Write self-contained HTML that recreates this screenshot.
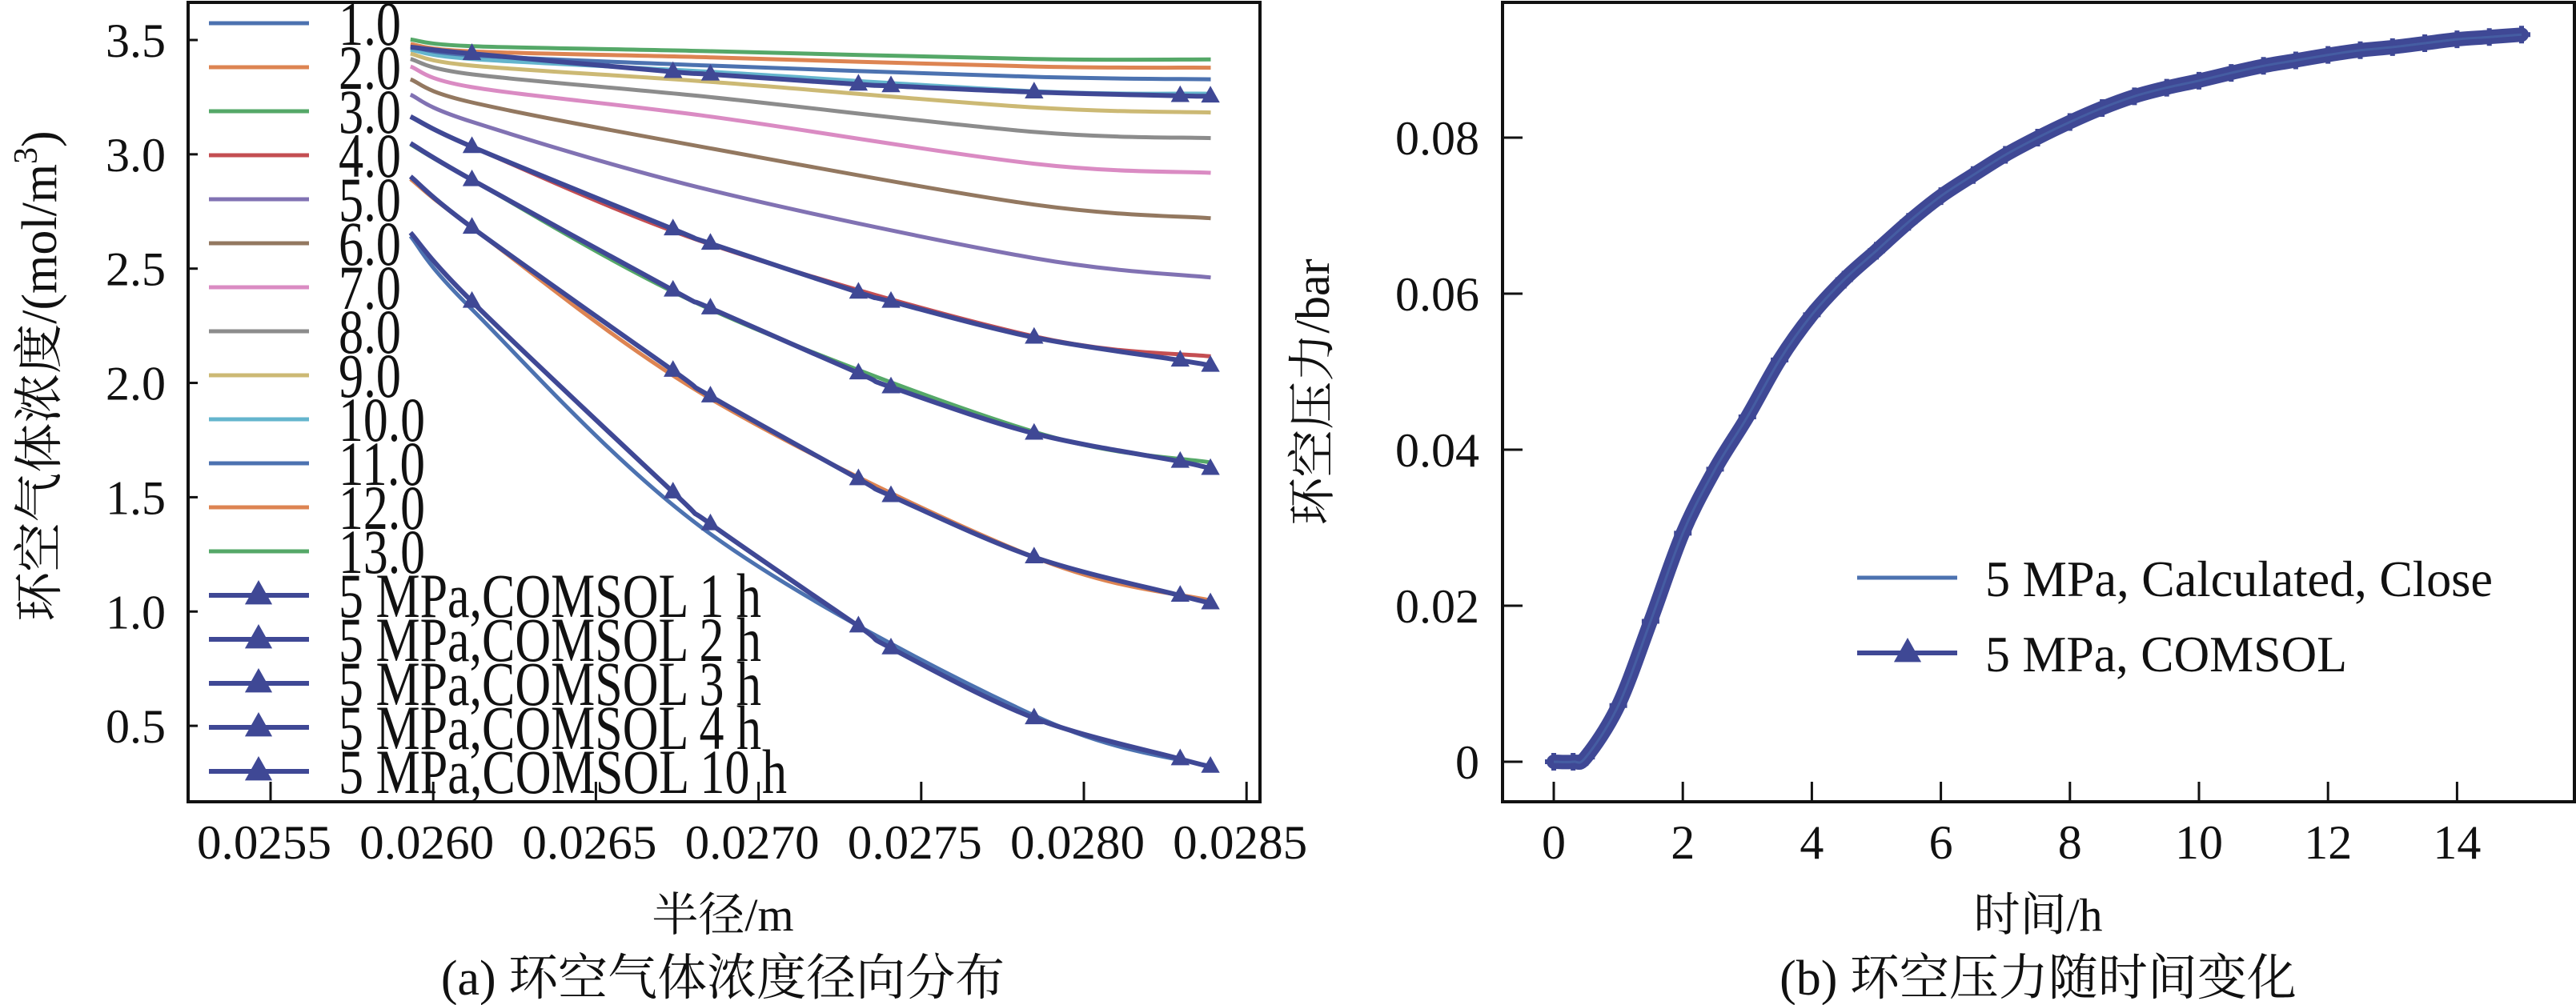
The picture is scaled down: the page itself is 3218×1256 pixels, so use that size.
<!DOCTYPE html>
<html><head><meta charset="utf-8"><style>
html,body{margin:0;padding:0;background:#fff;}
svg{display:block;font-family:"Liberation Serif","Times New Roman","DejaVu Serif","Noto Serif CJK SC",serif;}
text{font-family:"Liberation Serif","Times New Roman","DejaVu Serif","Noto Serif CJK SC",serif;fill:#111;}
</style></head><body>
<svg id="chart" width="3218" height="1256" viewBox="0 0 3218 1256" xmlns="http://www.w3.org/2000/svg" font-family="Liberation Serif, Noto Serif CJK SC, serif">
<g id="pa"></g>
<g id="pb"></g>
</svg>
<script>
// ---------- Panel (a) data ----------
const radiusCalc = [0.02593, 0.026119, 0.026852, 0.027847, 0.02839];
const calcLabels = ["1.0","2.0","3.0","4.0","5.0","6.0","7.0","8.0","9.0","10.0","11.0","12.0","13.0"];
const calc1 = [2.642, 2.322, 1.339, 0.545, 0.322];
const calc2 = [2.892, 2.680, 1.931, 1.238, 1.048];
const calc3 = [3.044, 2.888, 2.322, 1.786, 1.652];
const calc4 = [3.165, 3.033, 2.606, 2.204, 2.116];
const calc5 = [3.261, 3.142, 2.843, 2.546, 2.461];
const calc6 = [3.328, 3.227, 3.026, 2.780, 2.720];
const calc7 = [3.384, 3.294, 3.165, 2.959, 2.919];
const calc8 = [3.417, 3.350, 3.250, 3.098, 3.071];
const calc9 = [3.440, 3.388, 3.317, 3.205, 3.183];
const calc10 = [3.458, 3.417, 3.361, 3.276, 3.265];
const calc11 = [3.473, 3.433, 3.388, 3.339, 3.328];
const calc12 = [3.482, 3.450, 3.424, 3.384, 3.379];
const calc13 = [3.502, 3.473, 3.451, 3.417, 3.415];
const radiusComsol = [0.02593, 0.026119, 0.026737, 0.026852, 0.027307, 0.027407, 0.027847, 0.028296, 0.028389];
const comsolLabels = ["5 MPa,COMSOL 1 h","5 MPa,COMSOL 2 h","5 MPa,COMSOL 3 h","5 MPa,COMSOL 4 h","5 MPa,COMSOL 10 h"];
const comsol1h = [2.657, 2.356, 1.522, 1.383, 0.936, 0.840, 0.534, 0.355, 0.322];
const comsol2h = [2.903, 2.680, 2.054, 1.942, 1.580, 1.506, 1.238, 1.070, 1.037];
const comsol3h = [3.048, 2.888, 2.405, 2.327, 2.043, 1.982, 1.779, 1.656, 1.625];
const comsol4h = [3.165, 3.033, 2.673, 2.610, 2.396, 2.356, 2.199, 2.099, 2.076];
const comsol10h = [3.469, 3.440, 3.361, 3.350, 3.306, 3.299, 3.272, 3.256, 3.254];
const xTicksA = [0.0255, 0.0260, 0.0265, 0.0270, 0.0275, 0.0280, 0.0285];
const xTickLabelsA = ["0.0255","0.0260","0.0265","0.0270","0.0275","0.0280","0.0285"];
const yTicksA = [0.5, 1.0, 1.5, 2.0, 2.5, 3.0, 3.5];
const yTickLabelsA = ["0.5","1.0","1.5","2.0","2.5","3.0","3.5"];

// ---------- Panel (b) data ----------
const timeH = [0, 0.3, 0.5, 1, 1.5, 2, 2.5, 3, 3.5, 4, 4.5, 5, 5.5, 6, 6.5, 7, 7.5, 8, 8.5, 9, 9.5, 10, 10.5, 11, 11.5, 12, 12.5, 13, 13.5, 14, 14.5, 15];
const pressureBar = [0, 0, 0.0006, 0.0072, 0.0180, 0.0293, 0.0375, 0.0442, 0.0515, 0.0573, 0.0618, 0.0655, 0.0692, 0.0725, 0.0752, 0.0778, 0.0800, 0.0820, 0.0838, 0.0853, 0.0864, 0.0873, 0.0883, 0.0892, 0.0899, 0.0906, 0.0912, 0.0916, 0.0921, 0.0926, 0.0929, 0.0932];
const xTicksB = [0, 2, 4, 6, 8, 10, 12, 14];
const xTickLabelsB = ["0","2","4","6","8","10","12","14"];
const yTicksB = [0, 0.02, 0.04, 0.06, 0.08];
const yTickLabelsB = ["0","0.02","0.04","0.06","0.08"];

const NS = "http://www.w3.org/2000/svg";
function mk(parent, tag, attrs, txt){
  const e = document.createElementNS(NS, tag);
  for (const k in attrs) e.setAttribute(k, attrs[k]);
  if (txt !== undefined) e.textContent = txt;
  parent.appendChild(e);
  return e;
}
function smoothPath(xs, ys){
  let d = "M" + xs[0].toFixed(1) + "," + ys[0].toFixed(1);
  for (let i = 0; i < xs.length - 1; i++){
    const x0 = xs[Math.max(i-1,0)], y0 = ys[Math.max(i-1,0)];
    const x1 = xs[i], y1 = ys[i], x2 = xs[i+1], y2 = ys[i+1];
    const x3 = xs[Math.min(i+2,xs.length-1)], y3 = ys[Math.min(i+2,ys.length-1)];
    const c1x = x1 + (x2-x0)/6, c1y = y1 + (y2-y0)/6;
    const c2x = x2 - (x3-x1)/6, c2y = y2 - (y3-y1)/6;
    d += " C" + c1x.toFixed(1)+","+c1y.toFixed(1)+" "+c2x.toFixed(1)+","+c2y.toFixed(1)+" "+x2.toFixed(1)+","+y2.toFixed(1);
  }
  return d;
}
function tri(parent, cx, cy, s, color){
  return mk(parent, "path", {d:"M"+cx+","+(cy-s)+" L"+(cx+s*0.9)+","+(cy+s*0.6)+" L"+(cx-s*0.9)+","+(cy+s*0.6)+" Z", fill:color});
}
const COMSOL = "#3f4895";

// ---------- Panel (a) ----------
(function(){
  const g = document.getElementById("pa");
  const L = 235, R = 1574, T = 3, B = 1002;
  const xA = r => 338 + (r - 0.0255) / 0.0005 * 203.2;
  const yA = v => 50 + (3.5 - v) * 285.7;
  const colors = ["#4c72b0","#dd8452","#55a868","#c44e52","#8172b3","#937860","#da8bc3","#8c8c8c","#ccb974","#64b5cd","#4c72b0","#dd8452","#55a868"];
  const calcs = [calc1,calc2,calc3,calc4,calc5,calc6,calc7,calc8,calc9,calc10,calc11,calc12,calc13];
  const xs = radiusCalc.map(xA);
  calcs.forEach((s, i) => {
    const p = mk(g, "path", {d: smoothPath(xs, s.map(yA)), fill:"none", stroke:colors[i], "stroke-width":5});
    
    
  });
  const comsols = [comsol1h, comsol2h, comsol3h, comsol4h, comsol10h];
  const xc = radiusComsol.map(xA);
  comsols.forEach((s, i) => {
    const sg = mk(g, "g", {});
    
    
    mk(sg, "path", {d: smoothPath(xc, s.map(yA)), fill:"none", stroke:COMSOL, "stroke-width":6});
    for (let k = 1; k < s.length; k++){
      const m = tri(sg, xc[k], yA(s[k]), 13, COMSOL);
      
      
    }
  });
  const fr = mk(g, "rect", {x:L, y:T, width:R-L, height:B-T, fill:"none", stroke:"#111", "stroke-width":4});
  
  
  xTicksA.forEach((t, i) => {
    const x = xA(t);
    mk(g, "line", {x1:x, y1:B, x2:x, y2:B-25, stroke:"#111", "stroke-width":3});
    const tl = mk(g, "text", {x:x-8, y:1073, "font-size":60, "text-anchor":"middle", textLength:168, lengthAdjust:"spacingAndGlyphs"}, xTickLabelsA[i]);
    
    
  });
  yTicksA.forEach((t, i) => {
    const y = yA(t);
    mk(g, "line", {x1:L, y1:y, x2:L+12, y2:y, stroke:"#111", "stroke-width":3});
    const tl = mk(g, "text", {x:207, y:y+21, "font-size":60, "text-anchor":"end"}, yTickLabelsA[i]);
    
    
  });
  const lg = mk(g, "g", {});
  
  
  const allLabels = calcLabels.concat(comsolLabels);
  allLabels.forEach((lab, i) => {
    const y = 29 + 55 * i;
    const eg = mk(lg, "g", {});
    
    
    const col = i < 13 ? colors[i] : COMSOL;
    mk(eg, "line", {x1:261, y1:y, x2:386, y2:y, stroke:col, "stroke-width":i<13?5:6});
    if (i >= 13) tri(eg, 323, y, 19, COMSOL);
    const w = i < 13 ? (lab.length > 3 ? 108 : 78) : (lab.length > 16 ? 560 : 528);
    mk(eg, "text", {x:423, y:y+27, "font-size":78, textLength:w, lengthAdjust:"spacingAndGlyphs"}, lab);
  });
  const yt = mk(g, "text", {x:0, y:0, "font-size":62, "text-anchor":"middle", transform:"translate(70,470) rotate(-90)"});
  
  
  yt.innerHTML = '环空气体浓度/(mol/m<tspan dy="-24" font-size="42">3</tspan><tspan dy="24">)</tspan>';
  const xt = mk(g, "text", {x:903, y:1163, "font-size":58, "text-anchor":"middle"}, "半径/m");
  
  
  const cap = mk(g, "text", {x:903, y:1243, "font-size":62, "text-anchor":"middle"}, "(a) 环空气体浓度径向分布");
  
  
})();

// ---------- Panel (b) ----------
(function(){
  const g = document.getElementById("pb");
  const L = 1877, R = 3216, T = 3, B = 1002;
  const xB = t => 1941 + t * 80.6;
  const yB = v => 952 - v / 0.02 * 195;
  const xs = timeH.map(xB), ys = pressureBar.map(yB);
  const sg = mk(g, "g", {});
  
  
  mk(sg, "path", {d: smoothPath(xs, ys), fill:"none", stroke:COMSOL, "stroke-width":18, "stroke-linecap":"round"});
  for (let k = 0; k < xs.length; k++){
    const m = mk(sg, "path", {d:"M"+(xs[k]-11)+","+ys[k]+" h22 M"+xs[k]+","+(ys[k]-11)+" v22", stroke:COMSOL, "stroke-width":6});
    
    
  }
  const cl = mk(g, "path", {d: smoothPath(xs, ys), fill:"none", stroke:"#4c72b0", "stroke-width":3, opacity:0.5});
  
  
  const fr = mk(g, "rect", {x:L, y:T, width:R-L, height:B-T, fill:"none", stroke:"#111", "stroke-width":4});
  
  
  xTicksB.forEach((t, i) => {
    const x = xB(t);
    mk(g, "line", {x1:x, y1:B, x2:x, y2:B-25, stroke:"#111", "stroke-width":3});
    const tl = mk(g, "text", {x:x, y:1073, "font-size":60, "text-anchor":"middle"}, xTickLabelsB[i]);
    
    
  });
  yTicksB.forEach((t, i) => {
    const y = yB(t);
    mk(g, "line", {x1:L, y1:y, x2:L+25, y2:y, stroke:"#111", "stroke-width":3});
    const tl = mk(g, "text", {x:1848, y:y+21, "font-size":60, "text-anchor":"end"}, yTickLabelsB[i]);
    
    
  });
  const lg = mk(g, "g", {});
  
  
  mk(lg, "line", {x1:2320, y1:722, x2:2445, y2:722, stroke:"#4c72b0", "stroke-width":5});
  mk(lg, "text", {x:2480, y:745, "font-size":64, textLength:634, lengthAdjust:"spacingAndGlyphs"}, "5 MPa, Calculated, Close");
  mk(lg, "line", {x1:2320, y1:816, x2:2445, y2:816, stroke:COMSOL, "stroke-width":6});
  tri(lg, 2383, 816, 19, COMSOL);
  mk(lg, "text", {x:2480, y:839, "font-size":64, textLength:452, lengthAdjust:"spacingAndGlyphs"}, "5 MPa, COMSOL");
  const yt = mk(g, "text", {x:0, y:0, "font-size":60, "text-anchor":"middle", transform:"translate(1660,490) rotate(-90)"}, "环空压力/bar");
  
  
  const xt = mk(g, "text", {x:2546, y:1163, "font-size":58, "text-anchor":"middle"}, "时间/h");
  
  
  const cap = mk(g, "text", {x:2546, y:1243, "font-size":62, "text-anchor":"middle"}, "(b) 环空压力随时间变化");
  
  
})();
</script>
</body></html>
